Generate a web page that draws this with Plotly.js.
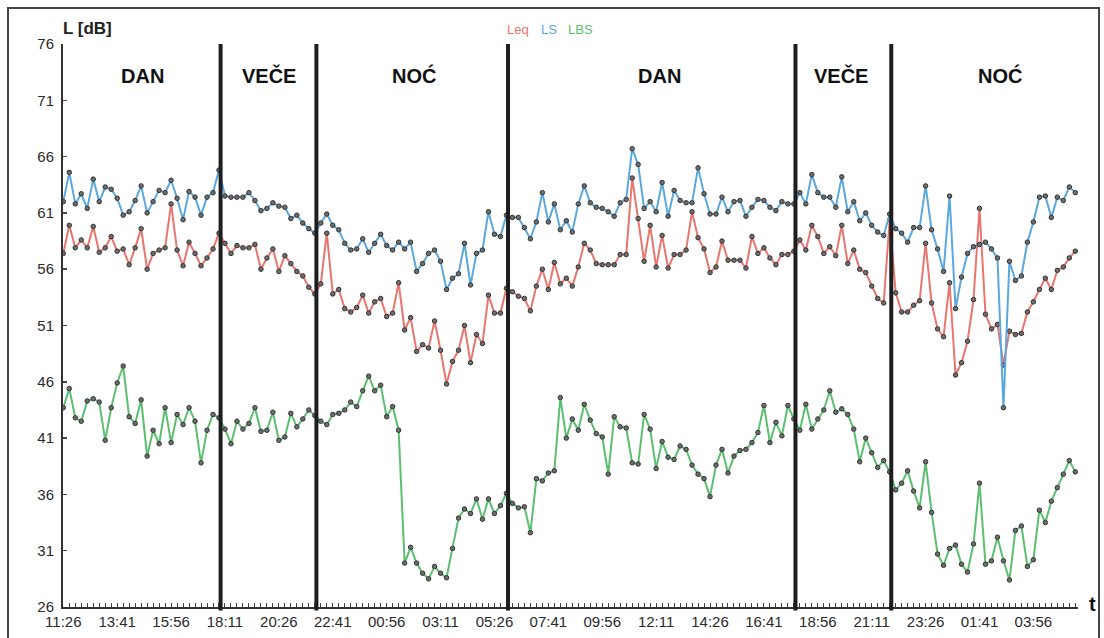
<!DOCTYPE html>
<html><head><meta charset="utf-8">
<script src="https://cdn.plot.ly/plotly-3.0.1.min.js"></script>
<style>html,body{margin:0;padding:0;background:#fff}#chart{width:1104px;height:638px}</style>
</head><body><div id="chart"></div>
<script>
// ---- data ----
const START_TIME = '11:26';
const STEP_MIN = 15;
const tickLabels = ['11:26','13:41','15:56','18:11','20:26','22:41','00:56','03:11','05:26','07:41',
  '09:56','12:11','14:26','16:41','18:56','21:11','23:26','01:41','03:56'];
const periodNames = ['DAN','VEČE','NOĆ','DAN','VEČE','NOĆ'];
const periodBoundaries = ['18:00','22:00','06:00','18:00','22:00'];
const seriesNames = ['Leq','LS','LBS'];

const leq = [57.4,59.9,57.9,58.6,57.9,59.8,57.5,57.9,58.9,57.6,
  57.8,56.4,57.9,59.6,56.0,57.4,57.7,57.9,61.8,57.7,
  56.3,58.4,57.4,56.3,57.0,57.8,59.2,58.3,57.4,58.1,
  57.9,57.9,58.2,56.0,57.0,57.8,55.8,57.2,56.5,55.8,
  55.4,54.4,53.8,54.7,59.2,53.8,54.2,52.5,52.2,52.6,
  53.7,52.1,53.1,53.4,51.8,52.1,54.8,50.6,51.7,48.7,
  49.3,49.0,51.4,48.8,45.8,47.8,48.8,51.0,47.7,50.2,
  49.4,53.7,52.1,52.1,54.3,54.0,53.6,53.4,52.3,54.5,
  56.0,54.2,56.6,54.7,55.2,54.5,56.2,58.3,57.7,56.5,
  56.4,56.4,56.4,57.3,57.3,64.1,60.5,56.7,59.9,56.2,
  59.0,56.1,57.3,57.3,57.7,61.1,58.8,57.8,55.7,56.2,
  58.5,56.8,56.8,56.8,56.1,58.9,57.4,57.9,57.0,56.4,
  57.3,57.3,57.6,58.6,57.7,59.9,58.9,57.4,58.0,57.2,
  59.9,56.5,57.7,56.0,55.7,54.5,53.4,53.0,60.4,53.9,
  52.2,52.2,52.8,53.2,58.3,53.0,50.7,50.0,54.8,46.6,
  47.7,49.6,53.3,61.4,52.0,50.7,51.1,47.5,50.5,50.2,
  50.3,52.2,53.1,54.2,55.2,54.2,55.9,56.2,57.0,57.6];

const ls = [62.0,64.6,61.8,62.7,61.4,64.0,62.0,63.3,63.1,62.3,
  60.8,61.1,62.1,63.4,61.0,62.0,63.0,62.8,63.9,62.3,
  60.4,62.9,62.4,60.8,62.4,62.8,64.8,62.5,62.4,62.4,
  62.4,62.8,62.1,61.2,61.4,61.9,61.6,61.5,60.5,60.8,
  60.1,59.6,59.2,60.1,60.9,59.9,59.5,58.3,57.7,57.8,
  58.7,57.5,58.3,59.1,58.1,57.7,58.4,57.8,58.4,55.8,
  56.5,57.4,57.7,56.7,54.2,55.2,55.6,58.3,54.6,57.4,
  57.7,61.1,59.1,58.9,60.8,60.6,60.6,59.7,58.7,60.2,
  62.8,60.2,61.8,59.5,60.3,59.3,61.8,63.4,61.9,61.5,
  61.4,61.1,60.7,61.9,62.2,66.7,65.3,61.4,62.0,61.1,
  63.7,60.7,63.0,62.1,61.9,61.9,65.0,62.7,60.9,60.9,
  62.4,61.1,62.0,62.1,60.7,61.5,62.2,62.1,61.5,61.2,
  62.0,61.8,61.8,62.8,61.8,64.4,62.8,62.4,62.4,61.5,
  64.2,61.1,62.0,60.3,61.0,59.9,59.3,59.0,60.9,59.6,
  59.2,58.4,59.7,59.7,63.4,59.5,57.8,55.8,62.5,52.5,
  55.3,57.4,58.0,58.2,58.4,57.8,57.0,43.7,56.7,55.0,
  55.4,58.4,60.2,62.4,62.5,60.6,62.4,62.1,63.3,62.8];

const lbs = [43.7,45.4,42.8,42.5,44.3,44.5,44.2,40.8,43.7,45.9,
  47.4,42.9,42.3,44.4,39.4,41.7,40.5,43.7,40.6,43.1,
  42.2,43.7,42.5,38.8,41.7,43.1,42.8,41.8,40.5,42.5,
  41.8,42.3,43.7,41.6,41.7,43.3,40.8,41.1,43.2,42.0,
  42.7,43.5,43.0,42.5,42.2,43.1,43.2,43.5,44.2,43.8,
  45.2,46.5,45.2,45.7,42.9,43.8,41.7,29.9,31.3,29.9,
  29.0,28.5,29.6,29.0,28.6,31.2,33.9,34.7,34.3,35.6,
  33.8,35.6,34.3,35.0,36.1,35.2,34.8,34.9,32.6,37.4,
  37.2,37.9,38.1,44.6,41.0,42.7,41.7,44.0,42.6,41.4,
  41.1,37.8,42.9,42.0,41.9,38.8,38.7,43.1,41.8,38.3,
  40.7,39.3,39.1,40.3,40.0,38.6,37.8,37.4,35.8,38.6,
  40.0,37.9,39.4,39.9,40.0,40.6,41.5,43.9,40.6,42.4,
  41.2,43.9,42.7,41.7,44.0,41.8,42.7,43.5,45.2,43.3,
  43.6,43.1,41.8,38.9,41.0,39.7,38.4,39.0,38.0,36.4,
  37.0,38.1,36.3,34.8,38.9,34.4,30.7,29.7,31.2,31.5,
  29.8,29.1,31.6,37.0,29.8,30.1,32.2,30.1,28.4,32.8,
  33.2,29.6,30.2,34.6,33.5,35.4,36.6,37.8,39.0,38.0];

// ---- helpers ----
function toMin(s){const p=s.split(':');return (+p[0])*60+(+p[1]);}
function clockToIndex(list){
  let prev = -1; const out = [];
  list.forEach(s=>{
    let m = toMin(s) - toMin(START_TIME);
    while (m < 0 || m <= prev) m += 1440;
    prev = m; out.push(m / STEP_MIN);
  });
  return out;
}
const xIdx = ls.map((_, i) => i);
const tickVals = clockToIndex(tickLabels);
const divX = clockToIndex(periodBoundaries);

const FONT = 'Liberation Sans, Arial, sans-serif';
const colors = {Leq:'#e8766e', LS:'#5aa8de', LBS:'#5cbf70'};
const mk = {size:4.5, color:'#6e6e6e', line:{color:'#333', width:1}};

function tr(name, ys){
  return {type:'scatter', mode:'lines+markers', name, x:xIdx, y:ys,
    line:{color:colors[name], width:2}, marker:mk, showlegend:false, hoverinfo:'skip'};
}
const traces = [tr('LBS', lbs), tr('Leq', leq), tr('LS', ls)];

// plot geometry
const PL = 63, PR = 1078, PT = 44, PB = 607.5, W = 1104, H = 638;
const pw = PR - PL, ph = PB - PT;
const px = x => (x - PL) / pw;
const py = y => (PB - y) / ph;

const shapes = divX.map(d => ({type:'line', xref:'x', yref:'paper', x0:d, x1:d,
  y0:-0.006, y1:1, line:{color:'#1e1e1e', width:4}}));
shapes.push({type:'rect', xref:'paper', yref:'paper', x0:px(8), x1:px(1099), y0:py(640), y1:py(8),
  line:{color:'#444', width:2}});

const labelPos = [13.3, 34.3, 58.6, 99.6, 129.9, 156.4];
const annotations = periodNames.map((n, k) => ({xref:'x', yref:'y', x:labelPos[k], y:73.2,
  text:'<b>'+n+'</b>', showarrow:false, font:{family:FONT, size:20, color:'#111'}}));
annotations.push({xref:'paper', yref:'paper', x:px(61), y:py(28), xanchor:'left', yanchor:'middle',
  text:'<b>L [dB]</b>', showarrow:false, font:{family:FONT, size:17, color:'#222'}});
annotations.push({xref:'paper', yref:'paper', x:px(1092), y:py(604), xanchor:'center', yanchor:'middle',
  text:'<b>t</b>', showarrow:false, font:{family:FONT, size:20, color:'#111'}});
const legendX = [518, 549, 580];
seriesNames.forEach((n, k) => annotations.push({xref:'paper', yref:'paper', x:px(legendX[k]), y:py(29),
  xanchor:'center', yanchor:'middle', text:n, showarrow:false,
  font:{family:FONT, size:13, color:colors[n]}}));

const yT = []; for (let v = 26; v <= 76; v += 5) yT.push(v);

const layout = {
  width:W, height:H, paper_bgcolor:'#fff', plot_bgcolor:'#fff',
  margin:{l:PL, r:W-PR, t:PT, b:H-PB},
  xaxis:{range:[-0.05, 169.45], showgrid:false, zeroline:false, showline:true, linecolor:'#333', linewidth:2,
    tickmode:'array', tickvals:tickVals, ticktext:tickLabels, ticks:'inside', ticklen:4, tickcolor:'#444', tickwidth:1,
    tickfont:{family:FONT, size:15, color:'#2a2a2a'},
    minor:{tickmode:'linear', tick0:0, dtick:1, ticks:'inside', ticklen:4, tickcolor:'#444', tickwidth:1, showgrid:false}},
  yaxis:{range:[26,76], showgrid:false, zeroline:false, showline:true, linecolor:'#333', linewidth:2,
    tickmode:'array', tickvals:yT, ticks:'inside', ticklen:4, tickcolor:'#444', tickwidth:1.5,
    ticklabelstandoff:4, tickfont:{family:FONT, size:15, color:'#2a2a2a'}},
  shapes, annotations, showlegend:false
};
Plotly.newPlot('chart', traces, layout, {staticPlot:true, displayModeBar:false});
</script></body></html>
